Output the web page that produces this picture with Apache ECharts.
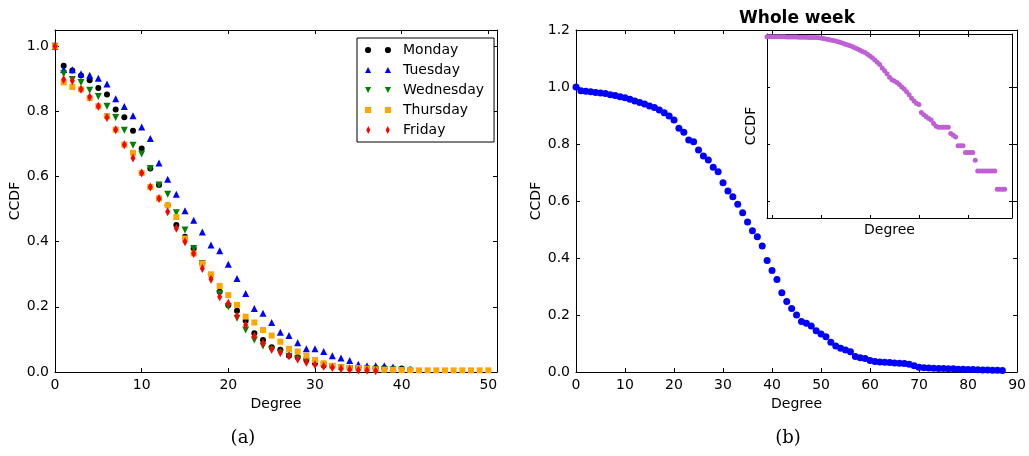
<!DOCTYPE html>
<html>
<head>
<meta charset="utf-8">
<script src="https://cdn.jsdelivr.net/npm/echarts@6/dist/echarts.min.js"></script>
<style>
html,body{margin:0;padding:0;background:#fff;}
#chart{width:1029px;height:456px;}
</style>
</head>
<body>
<div id="chart"></div>
<script>
// ---------- data ----------
var degreesA = [0,1,2,3,4,5,6,7,8,9,10,11,12,13,14,15,16,17,18,19,20,21,22,23,24,25,26,27,28,29,30,31,32,33,34,35,36,37,38,39,40,41,42,43,44,45,46,47,48,49,50];
var monday = [1.0,0.940,0.926,0.910,0.896,0.872,0.852,0.806,0.782,0.741,0.686,0.625,0.574,0.512,0.451,0.415,0.379,0.333,0.298,0.246,0.205,0.188,0.157,0.119,0.098,0.076,0.068,0.050,0.045,0.037,0.027,0.020,0.018,0.015,0.013,0.012,0.012,0.012,0.012,0.011,0.011,0.008];
var tuesday = [1.0,0.929,0.928,0.916,0.911,0.902,0.884,0.839,0.815,0.787,0.752,0.717,0.642,0.592,0.546,0.495,0.466,0.430,0.390,0.372,0.331,0.287,0.241,0.195,0.180,0.152,0.122,0.112,0.090,0.071,0.071,0.063,0.050,0.043,0.035,0.024,0.019,0.019,0.019,0.015];
var wednesday = [1.0,0.916,0.898,0.889,0.865,0.846,0.816,0.781,0.742,0.696,0.669,0.625,0.574,0.546,0.489,0.436,0.379,0.333,0.290,0.240,0.200,0.165,0.129,0.098,0.080,0.068,0.058,0.048,0.040,0.033,0.025,0.020,0.016,0.013,0.011,0.010,0.009,0.008,0.007,0.006,0.005];
var thursday = [1.0,0.889,0.875,0.868,0.841,0.816,0.786,0.744,0.698,0.673,0.611,0.568,0.533,0.512,0.476,0.410,0.364,0.333,0.300,0.264,0.236,0.206,0.170,0.152,0.129,0.112,0.093,0.071,0.063,0.050,0.037,0.027,0.019,0.015,0.012,0.012,0.010,0.008,0.007,0.007,0.006,0.006,0.005,0.005,0.005,0.005,0.005,0.005,0.005,0.005,0.005];
var friday = [1.0,0.898,0.894,0.868,0.844,0.816,0.781,0.744,0.698,0.657,0.611,0.568,0.533,0.492,0.441,0.400,0.364,0.318,0.285,0.231,0.211,0.172,0.144,0.110,0.088,0.070,0.060,0.050,0.040,0.030,0.022,0.018,0.014,0.010,0.008,0.006,0.005,0.004];

var degreesB = [0,1,2,3,4,5,6,7,8,9,10,11,12,13,14,15,16,17,18,19,20,21,22,23,24,25,26,27,28,29,30,31,32,33,34,35,36,37,38,39,40,41,42,43,44,45,46,47,48,49,50,51,52,53,54,55,56,57,58,59,60,61,62,63,64,65,66,67,68,69,70,71,72,73,74,75,76,77,78,79,80,81,82,83,84,85,86,87];
var wholeWeek = [1.0,0.987,0.985,0.983,0.981,0.979,0.977,0.973,0.970,0.966,0.962,0.957,0.951,0.946,0.940,0.933,0.928,0.919,0.910,0.898,0.884,0.855,0.841,0.814,0.808,0.779,0.758,0.744,0.718,0.703,0.664,0.635,0.615,0.589,0.559,0.526,0.496,0.475,0.442,0.391,0.356,0.325,0.278,0.247,0.223,0.200,0.177,0.171,0.161,0.145,0.133,0.124,0.104,0.091,0.083,0.077,0.071,0.054,0.050,0.047,0.040,0.037,0.035,0.034,0.033,0.032,0.031,0.030,0.027,0.022,0.017,0.015,0.014,0.013,0.012,0.012,0.011,0.011,0.010,0.010,0.009,0.009,0.008,0.007,0.007,0.006,0.006,0.005];

var insetX = [-2,-1,0,1,2,3,4,5,6,7,8,9,10,11,12,13,14,15,16,17,18,19,20,21,22,23,24,25,26,27,28,29,30,31,32,33,34,35,36,37,38,39,40,41,42,43,44,45,46,47,48,49,50,51,52,53,54,55,56,57,58,59,60,61,62,63,64,65,66,67,68,69,70,71,72,73,74,75,76,77,78,79,80,81,82,83,84,85,86,87,88,89,90,91,92,93,94,95];
var insetY = [0.773,0.772,0.771,0.770,0.770,0.769,0.768,0.767,0.766,0.765,0.764,0.762,0.761,0.759,0.757,0.755,0.753,0.751,0.749,0.747,0.745,0.743,0.733,0.719,0.705,0.692,0.678,0.664,0.652,0.631,0.611,0.592,0.571,0.553,0.535,0.516,0.490,0.468,0.447,0.427,0.407,0.380,0.355,0.331,0.302,0.275,0.251,0.219,0.195,0.174,0.151,0.136,0.129,0.122,0.112,0.102,0.0933,0.0838,0.0741,0.0646,0.0575,0.0525,0.0501,0.0363,0.0331,0.0305,0.0285,0.0267,0.0234,0.0209,0.0200,0.0200,0.0200,0.0200,0.0200,0.0155,0.0145,0.0135,0.00946,0.00946,0.00946,0.00723,0.00723,0.00723,0.00723,0.0053,0.00344,0.00344,0.00344,0.00344,0.00344,0.00344,0.00344,0.00344,0.00164,0.00164,0.00164,0.00164];

var seriesNamesA = ['Monday','Tuesday','Wednesday','Thursday','Friday'];
var xTicksA = [0,10,20,30,40,50];
var yTicksA = ['0.0','0.2','0.4','0.6','0.8','1.0'];

// ---------- helpers ----------
function pairs(xs, ys){ var out=[]; for (var i=0;i<ys.length;i++) out.push([xs[i], ys[i]]); return out; }
var FONT = 'DejaVu Sans';
var tickStyle = {inside:true, length:4, lineStyle:{color:'#000', width:1}};
var lineStyle = {onZero:false, lineStyle:{color:'#000', width:1}};
function fmt1(v){ return (Math.round(v*10)/10).toFixed(1); }

var legendIcons = {
  Monday: 'path://M0,3A3,3 0 1,0 6,3A3,3 0 1,0 0,3Z M19.4,3A3,3 0 1,0 25.4,3A3,3 0 1,0 19.4,3Z',
  Tuesday: 'path://M3,0L6,6L0,6Z M22.4,0L25.4,6L19.4,6Z',
  Wednesday: 'path://M0,0L6,0L3,6Z M19.4,0L25.4,0L22.4,6Z',
  Thursday: 'path://M0,0L6,0L6,6L0,6Z M19.4,0L25.4,0L25.4,6L19.4,6Z',
  Friday: 'path://M3,0L5,4L3,8L1,4Z M22.4,0L24.4,4L22.4,8L20.4,4Z'
};

var chart = echarts.init(document.getElementById('chart'), null, {renderer:'canvas'});

var option = {
  animation: false,
  backgroundColor: '#ffffff',
  textStyle: {fontFamily: FONT},
  grid: [
    {left:55, top:30, width:442, height:342},
    {left:576, top:30, width:442, height:342},
    {left:767, top:34, width:245, height:184}
  ],
  xAxis: [
    {gridIndex:0, type:'value', min:0, max:51, interval:10, position:'bottom',
     axisLine:lineStyle, axisTick:tickStyle, splitLine:{show:false},
     axisLabel:{color:'#000', fontSize:14, fontFamily:FONT, margin:6, showMaxLabel:false,
       formatter:function(v){ return xTicksA.indexOf(v) >= 0 ? String(v) : ''; }},
     name:'Degree', nameLocation:'middle', nameGap:18, nameTextStyle:{color:'#000', fontSize:14, fontFamily:FONT, verticalAlign:'top'}},
    {gridIndex:0, type:'value', min:0, max:51, interval:10, position:'top',
     axisLine:lineStyle, axisTick:tickStyle, axisLabel:{show:false}, splitLine:{show:false}},
    {gridIndex:1, type:'value', min:0, max:90, interval:10, position:'bottom',
     axisLine:lineStyle, axisTick:tickStyle, splitLine:{show:false},
     axisLabel:{color:'#000', fontSize:14, fontFamily:FONT, margin:6},
     name:'Degree', nameLocation:'middle', nameGap:18, nameTextStyle:{color:'#000', fontSize:14, fontFamily:FONT, verticalAlign:'top'}},
    {gridIndex:1, type:'value', min:0, max:90, interval:10, position:'top',
     axisLine:lineStyle, axisTick:tickStyle, axisLabel:{show:false}, splitLine:{show:false}},
    {gridIndex:2, type:'value', min:-2, max:98, position:'bottom',
     axisLine:lineStyle, axisTick:{inside:true, length:3, lineStyle:{color:'#000'}, customValues:[0,20,40,60,80]},
     axisLabel:{show:false}, splitLine:{show:false},
     name:'Degree', nameLocation:'middle', nameGap:5, nameTextStyle:{color:'#000', fontSize:14, fontFamily:FONT, verticalAlign:'top'}},
    {gridIndex:2, type:'value', min:-2, max:98, position:'top',
     axisLine:lineStyle, axisTick:{inside:true, length:3, lineStyle:{color:'#000'}, customValues:[0,20,40,60,80]},
     axisLabel:{show:false}, splitLine:{show:false}}
  ],
  yAxis: [
    {gridIndex:0, type:'value', min:0, max:1.05, interval:0.2, position:'left',
     axisLine:lineStyle, axisTick:tickStyle, splitLine:{show:false},
     axisLabel:{color:'#000', fontSize:14, fontFamily:FONT, margin:6, showMaxLabel:false,
       formatter:function(v){ var s=fmt1(v); return yTicksA.indexOf(s)>=0 && Math.abs(v-parseFloat(s))<1e-6 ? s : ''; }},
     name:'CCDF', nameLocation:'middle', nameGap:33, nameTextStyle:{color:'#000', fontSize:14, fontFamily:FONT}},
    {gridIndex:0, type:'value', min:0, max:1.05, interval:0.2, position:'right',
     axisLine:lineStyle, axisTick:tickStyle, axisLabel:{show:false}, splitLine:{show:false}},
    {gridIndex:1, type:'value', min:0, max:1.2, interval:0.2, position:'left',
     axisLine:lineStyle, axisTick:tickStyle, splitLine:{show:false},
     axisLabel:{color:'#000', fontSize:14, fontFamily:FONT, margin:6, formatter:fmt1},
     name:'CCDF', nameLocation:'middle', nameGap:33, nameTextStyle:{color:'#000', fontSize:14, fontFamily:FONT}},
    {gridIndex:1, type:'value', min:0, max:1.2, interval:0.2, position:'right',
     axisLine:lineStyle, axisTick:tickStyle, axisLabel:{show:false}, splitLine:{show:false}},
    {gridIndex:2, type:'log', logBase:10, min:0.000515, max:0.861, position:'left',
     axisLine:lineStyle, axisTick:{inside:true, length:3, lineStyle:{color:'#000'}},
     axisLabel:{show:false}, splitLine:{show:false},
     name:'CCDF', nameLocation:'middle', nameGap:9, nameTextStyle:{color:'#000', fontSize:14, fontFamily:FONT}},
    {gridIndex:2, type:'log', logBase:10, min:0.000515, max:0.861, position:'right',
     axisLine:lineStyle, axisTick:{inside:true, length:3, lineStyle:{color:'#000'}},
     axisLabel:{show:false}, splitLine:{show:false}}
  ],
  legend: {
    left:357, top:38, orient:'vertical', itemWidth:26, itemHeight:8, itemGap:6,
    padding:[5,10,5,8], borderColor:'#000', borderWidth:1, backgroundColor:'#fff',
    textStyle:{color:'#000', fontSize:14, fontFamily:FONT, padding:[0,0,0,7]},
    data: seriesNamesA.map(function(n){ return {name:n, icon:legendIcons[n]}; })
  },
  graphic: [
    {type:'text', x:797, y:19, style:{text:'Whole week', font:'bold 17px "DejaVu Sans"', fill:'#000', textAlign:'center', textVerticalAlign:'middle'}},
    {type:'text', x:243, y:438, style:{text:'(a)', font:'18px "DejaVu Serif"', fill:'#000', textAlign:'center', textVerticalAlign:'middle'}},
    {type:'text', x:788, y:438, style:{text:'(b)', font:'18px "DejaVu Serif"', fill:'#000', textAlign:'center', textVerticalAlign:'middle'}}
  ],
  series: [
    {name:'Monday', type:'scatter', xAxisIndex:0, yAxisIndex:0, symbol:'circle', symbolSize:6,
     itemStyle:{color:'#000000', opacity:1}, data:pairs(degreesA, monday), z:2},
    {name:'Tuesday', type:'scatter', xAxisIndex:0, yAxisIndex:0, symbol:'triangle', symbolSize:7,
     itemStyle:{color:'#0000ff', opacity:1}, data:pairs(degreesA, tuesday), z:3},
    {name:'Wednesday', type:'scatter', xAxisIndex:0, yAxisIndex:0, symbol:'triangle', symbolRotate:180, symbolSize:7,
     itemStyle:{color:'#008000', opacity:1}, data:pairs(degreesA, wednesday), z:4},
    {name:'Thursday', type:'scatter', xAxisIndex:0, yAxisIndex:0, symbol:'rect', symbolSize:6,
     itemStyle:{color:'#ffa500', opacity:1}, data:pairs(degreesA, thursday), z:5},
    {name:'Friday', type:'scatter', xAxisIndex:0, yAxisIndex:0, symbol:'diamond', symbolSize:[5,9],
     itemStyle:{color:'#ff0000', opacity:1}, data:pairs(degreesA, friday), z:6},
    {name:'Whole week', type:'scatter', xAxisIndex:2, yAxisIndex:2, symbol:'circle', symbolSize:7,
     itemStyle:{color:'#0000ff', opacity:1}, data:pairs(degreesB, wholeWeek)},
    {name:'Whole week (log)', type:'scatter', xAxisIndex:4, yAxisIndex:4, symbol:'circle', symbolSize:5,
     itemStyle:{color:'#bf5fd6', opacity:1}, data:pairs(insetX, insetY)}
  ]
};
chart.setOption(option);
</script>
</body>
</html>
